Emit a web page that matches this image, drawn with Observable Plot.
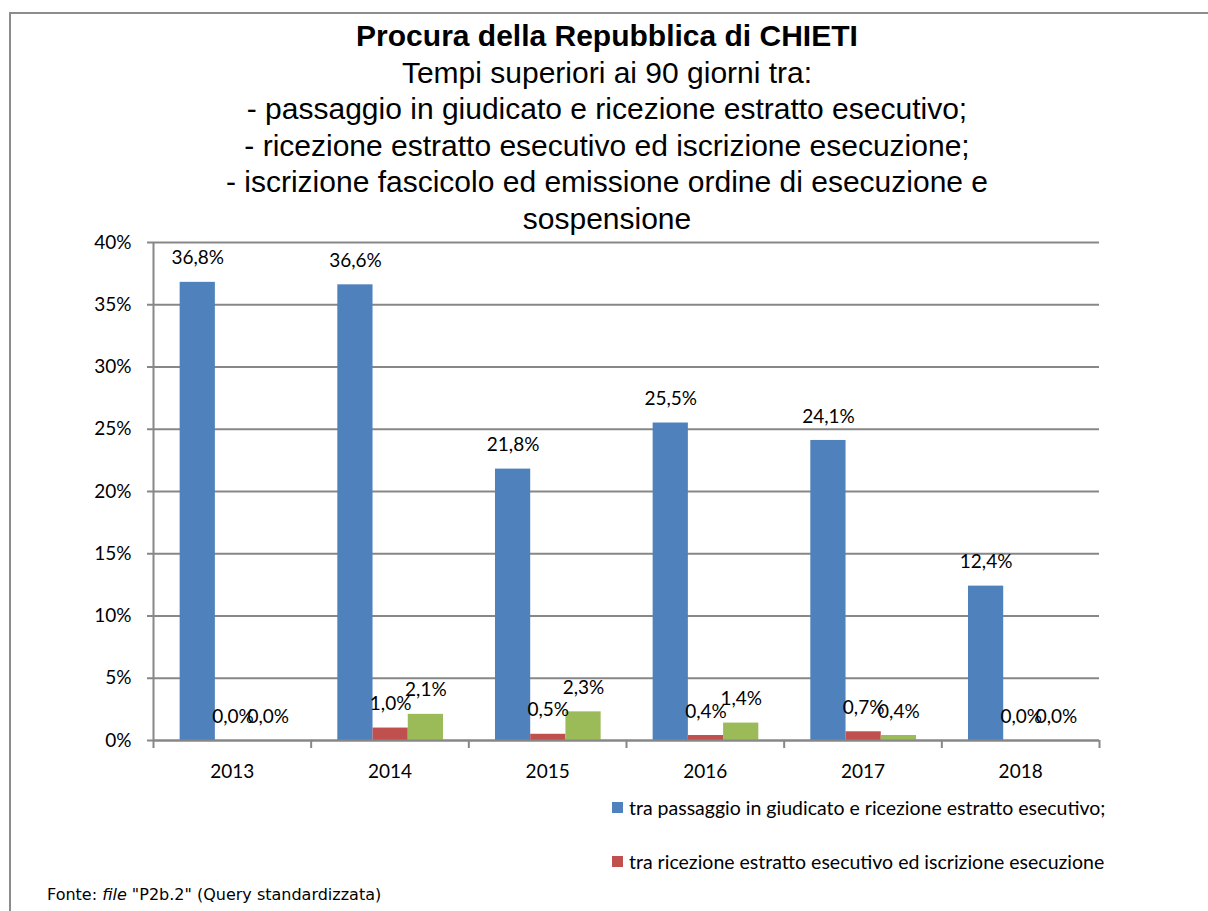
<!DOCTYPE html>
<html>
<head>
<meta charset="utf-8">
<script src="https://cdn.jsdelivr.net/npm/d3@7"></script>
<script src="https://cdn.jsdelivr.net/npm/@observablehq/plot@0.6"></script>
<style>
  html, body { margin: 0; padding: 0; background: #fff; }
  body { width: 1208px; height: 911px; position: relative; overflow: hidden; }
  #border { position: absolute; left: 9px; top: 12px; width: 1300px; height: 1000px; border: 2px solid #8c8c8c; box-sizing: border-box; }
  #chart { position: absolute; left: 0; top: 0; }
  #titles { position: absolute; left: 0; top: 18px; width: 1214px; text-align: center; font-family: "Liberation Sans", Arial, sans-serif; font-size: 30px; line-height: 36.6px; color: #000; }
  #titles .t { font-weight: bold; }
  .leg { position: absolute; left: 612px; font-family: Lato, sans-serif; font-size: 19.5px; color: #000; display: flex; align-items: center; white-space: nowrap; }
  .leg span.sw { width: 11px; height: 11px; margin-right: 6px; display: inline-block; }
  #caption { position: absolute; left: 47px; top: 885px; font-family: "DejaVu Sans", Verdana, sans-serif; font-size: 16px; color: #000; white-space: nowrap; }
</style>
</head>
<body>
<div id="border"></div>
<div id="chart"></div>
<div id="titles">
  <div class="t">Procura della Repubblica di CHIETI</div>
  <div>Tempi superiori ai 90 giorni tra:</div>
  <div>- passaggio in giudicato e ricezione estratto esecutivo;</div>
  <div>- ricezione estratto esecutivo ed iscrizione esecuzione;</div>
  <div>- iscrizione fascicolo ed emissione ordine di esecuzione e</div>
  <div>sospensione</div>
</div>
<div id="legend"></div>
<div id="caption">Fonte: <i>file</i> "P2b.2" (Query standardizzata)</div>
<script>
const years = ["2013", "2014", "2015", "2016", "2017", "2018"];
const seriesNames = [
  "tra passaggio in giudicato e ricezione estratto esecutivo;",
  "tra ricezione estratto esecutivo ed iscrizione esecuzione",
  "tra iscrizione fascicolo ed emissione ordine di esecuzione e sospensione"
];
const seriesColors = ["#4F81BD", "#C0504D", "#9BBB59"];
const valuesGiudicato = [36.8, 36.6, 21.8, 25.5, 24.1, 12.4];
const valuesIscrizione = [0.0, 1.0, 0.5, 0.4, 0.7, 0.0];
const valuesOrdine = [0.0, 2.1, 2.3, 1.4, 0.4, 0.0];
const yTicks = [0, 5, 10, 15, 20, 25, 30, 35, 40];

const seriesValues = [valuesGiudicato, valuesIscrizione, valuesOrdine];
const data = [];
seriesValues.forEach((vals, s) => vals.forEach((v, i) => data.push({i, s, year: years[i], series: seriesNames[s], value: v})));

// grouped bars on a linear category axis: category i spans [i, i+1]
const groupStart = 0.169, barW = 0.2234;
const bx1 = d => d.i + groupStart + d.s * barW;
const bx2 = d => d.i + groupStart + (d.s + 1) * barW;
const bxc = d => d.i + groupStart + (d.s + 0.5) * barW;
const fmt = v => v.toFixed(1).replace(".", ",") + "%";

const gray = "#878787";
const chart = Plot.plot({
  width: 1208,
  height: 911,
  marginLeft: 153,
  marginRight: 109,
  marginTop: 242,
  marginBottom: 171,
  style: {fontFamily: "Lato, sans-serif", fontSize: "19px", color: "#000", background: "transparent"},
  x: {type: "linear", domain: [0, years.length], axis: null},
  y: {domain: [0, 40], axis: null},
  color: {domain: seriesNames, range: seriesColors},
  marks: [
    Plot.gridY(yTicks, {stroke: gray, strokeOpacity: 1, strokeWidth: 2}),
    Plot.axisY(yTicks, {label: null, tickSize: 6, tickPadding: 16, stroke: gray, strokeWidth: 2, tickFormat: d => d + "%", fontSize: 19, fill: "#000"}),
    Plot.rectY(data, {x1: bx1, x2: bx2, y1: 0, y2: "value", fill: "series"}),
    Plot.ruleX([0], {stroke: gray, strokeWidth: 2}),
    Plot.ruleY([0], {stroke: gray, strokeWidth: 2}),
    Plot.axisX(d3.range(0, years.length + 1), {label: null, tickSize: 8, tickFormat: () => "", stroke: gray, strokeWidth: 2}),
    Plot.axisX(years.map((y, i) => i + 0.5), {label: null, tickSize: 0, tickPadding: 24, tickFormat: d => years[Math.floor(d)], fontSize: 19, fill: "#000"}),
    Plot.text(data, {x: bxc, y: "value", text: d => fmt(d.value), dy: -24, lineAnchor: "middle", textAnchor: "middle", fontSize: 19, fill: "#000"})
  ]
});
document.getElementById("chart").appendChild(chart);

const legend = document.getElementById("legend");
const legendTops = [796, 850];
[0, 1].forEach((s, k) => {
  const row = document.createElement("div");
  row.className = "leg";
  row.style.top = legendTops[k] + "px";
  const sw = document.createElement("span");
  sw.className = "sw";
  sw.style.background = seriesColors[s];
  row.appendChild(sw);
  row.appendChild(document.createTextNode(seriesNames[s]));
  legend.appendChild(row);
});
</script>
</body>
</html>
